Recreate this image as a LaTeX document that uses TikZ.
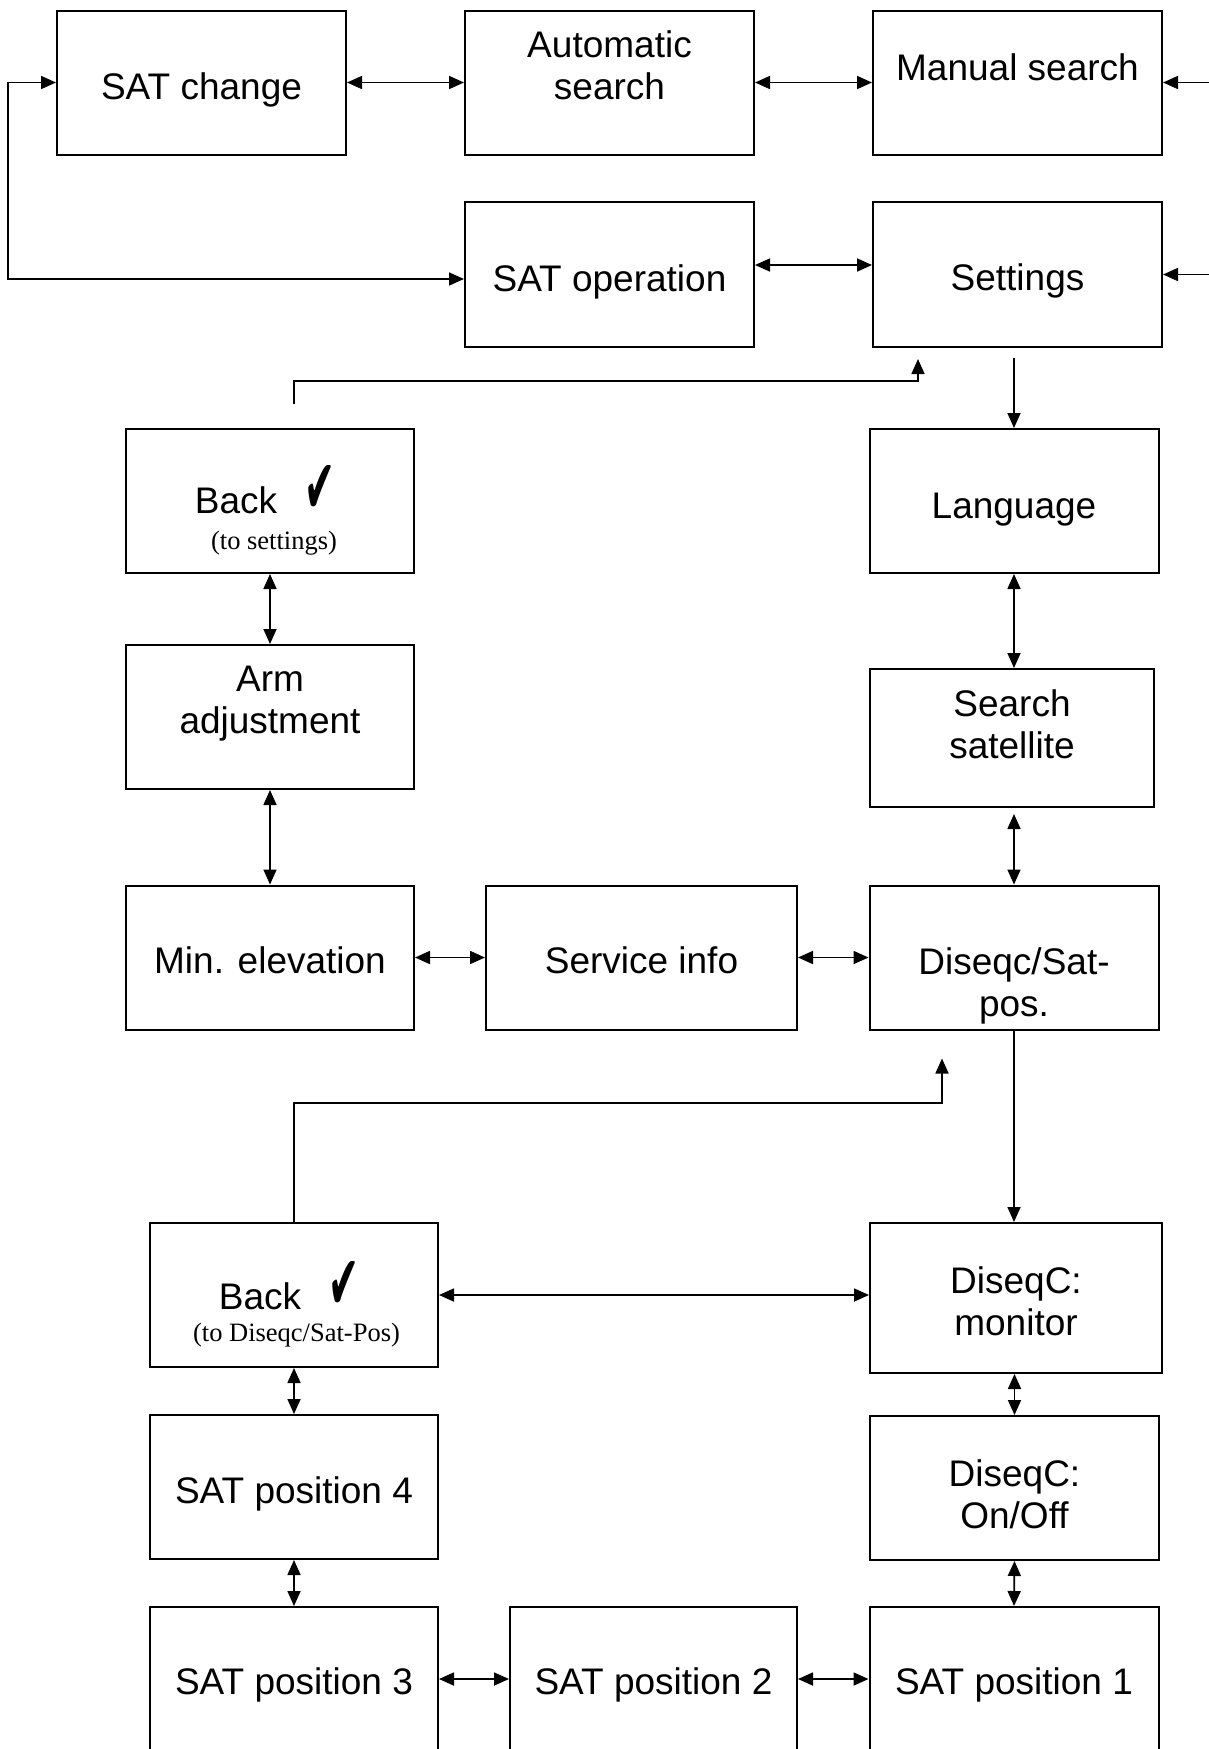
\documentclass[tikz,border=0pt]{standalone}
\usepackage{fontspec}
\usepackage{graphicx}
\usetikzlibrary{arrows.meta}
\setmainfont{Liberation Sans}
\newfontfamily\notefont{Liberation Serif}
\newfontfamily\tickfont{DejaVu Sans}
\newcommand{\tickmark}{\resizebox{31pt}{48pt}{\tickfont ✔}}

\tikzset{
    menu/.style={draw, line width=2pt, minimum width=289pt, minimum height=144pt, inner sep=0pt},
    entry/.style={font=\fontsize{37}{41.5}\selectfont, align=center, anchor=base, inner sep=0pt},
    note/.style={font=\notefont\fontsize{26.5}{30}\selectfont, anchor=base, inner sep=0pt},
    link/.style={line width=1.7pt, -{Triangle[length=15pt,width=13pt]}},
    dlink/.style={line width=1.7pt, {Triangle[length=15pt,width=13pt]}-{Triangle[length=15pt,width=13pt]}}
}

\begin{document}
\begin{tikzpicture}[x=1pt, y=-1pt]
            % Frame to fix the page size:
            \useasboundingbox (0,0) rectangle (1209,1749);
            % Top rows
            \node[menu]                                  (satchange) at ( 201.5,  82.5) {};
            \node[menu]                                  (autosearch) at ( 609.5,  82.5) {};
            \node[menu]                                  (manual)    at (1017.5,  82.5) {};
            \node[menu, minimum height=145pt]            (satop)     at ( 609.5, 274.5) {};
            \node[menu, minimum height=145pt]            (settings)  at (1017.5, 274.5) {};
            \node[entry] (satchange-t)  at ( 201.5,  99) {SAT change};
            \node[entry] (autosearch-t) at ( 609.5,  99) {Automatic\\search};
            \node[entry] (manual-t)     at (1017.5,  80) {Manual search};
            \node[entry] (satop-t)      at ( 609.5, 291) {SAT operation};
            \node[entry] (settings-t)   at (1017.5, 290) {Settings};
            % Settings menu
            \node[menu, minimum width=288pt]             (back1)     at ( 270, 501) {};
            \node[menu]                                  (language)  at (1014, 501) {};
            \node[menu, minimum width=288pt]             (arm)       at ( 270, 717) {};
            \node[menu, minimum width=284pt, minimum height=138pt] (search) at (1012, 738) {};
            \node[menu, minimum width=288pt]             (minelev)   at ( 270, 957.5) {};
            \node[menu, minimum width=311pt]             (service)   at ( 641.5, 957.5) {};
            \node[menu]                                  (diseqc)    at (1014, 957.5) {};
            \node[entry] (back1-t)    at ( 265, 513) {Back\hspace{27pt}\tickmark};
            \node[note]  (back1-n)    at ( 274, 549) {(to settings)};
            \node[entry] (language-t) at (1014, 518) {Language};
            \node[entry] (arm-t)      at ( 270, 733) {Arm\\adjustment};
            \node[entry] (search-t)   at (1012, 758) {Search\\satellite};
            \node[entry] (minelev-t)  at ( 270, 973) {Min. elevation};
            \node[entry] (service-t)  at ( 641.5, 973) {Service info};
            \node[entry] (diseqc-t)   at (1014, 1016) {Diseqc/Sat-\\pos.};
            % DiseqC menu
            \node[menu, minimum width=288pt]             (back2)     at ( 294, 1295) {};
            \node[menu, minimum width=292pt, minimum height=150pt] (monitor) at (1016, 1298) {};
            \node[menu, minimum width=288pt]             (pos4)      at ( 294, 1487) {};
            \node[menu]                                  (onoff)     at (1014.5, 1488) {};
            \node[menu, minimum width=288pt]             (pos3)      at ( 294, 1679) {};
            \node[menu, minimum width=287pt]             (pos2)      at ( 653.5, 1679) {};
            \node[menu]                                  (pos1)      at (1014, 1679) {};
            \node[entry] (back2-t)   at ( 289, 1309) {Back\hspace{27pt}\tickmark};
            \node[note]  (back2-n)   at ( 296.5, 1341) {(to Diseqc/Sat-Pos)};
            \node[entry] (monitor-t) at (1016, 1335) {DiseqC:\\monitor};
            \node[entry] (onoff-t)   at (1014.5, 1528) {DiseqC:\\On/Off};
            \node[entry] (pos4-t)    at ( 294, 1503) {SAT position 4};
            \node[entry] (pos3-t)    at ( 294, 1694) {SAT position 3};
            \node[entry] (pos2-t)    at ( 653.5, 1694) {SAT position 2};
            \node[entry] (pos1-t)    at (1014, 1694) {SAT position 1};
            % Free ends on the right
            \coordinate (in-manual)   at (1209,  82.5);
            \coordinate (in-settings) at (1209, 274.5);
            % Top connectors
            \draw[dlink] (satchange.east) -- (autosearch.west);
            \draw[dlink] (autosearch.east) -- (manual.west);
            \draw[dlink] (satchange.west) -- ++(-48,0) |- ([yshift=-4.5pt]satop.west);
            \draw[dlink] ([yshift=9.5pt]satop.east) -- ([yshift=9.5pt]settings.west);
            \draw[link]  (in-manual) -- (manual.east);
            \draw[link]  (in-settings) -- (settings.east);
            % Settings connectors
            \draw[link]  ([yshift=-10pt]settings.south -| language.north) -- (language.north);
            \draw[link]  ([xshift=24pt,yshift=24pt]back1.north) -- ++(0,-23) -| ([xshift=-99.5pt,yshift=-11pt]settings.south);
            \draw[dlink] (language.south) -- (language.south |- search.north);
            \draw[dlink] ([yshift=-6pt]search.south -| diseqc.north) -- (diseqc.north);
            \draw[dlink] (back1.south) -- (arm.north);
            \draw[dlink] (arm.south) -- (minelev.north);
            \draw[dlink] (minelev.east) -- (service.west);
            \draw[dlink] (service.east) -- (diseqc.west);
            % DiseqC connectors
            \draw[link]  (diseqc.south) -- (diseqc.south |- monitor.north);
            \draw[link]  (back2.north) -- ++(0,-119) -| ([xshift=-72pt,yshift=-28pt]diseqc.south);
            \draw[dlink] (back2.east) -- (back2.east -| monitor.west);
            \draw[dlink] (back2.south) -- (pos4.north);
            \draw[dlink] (onoff.north |- monitor.south) -- (onoff.north);
            \draw[dlink] (pos4.south) -- (pos3.north);
            \draw[dlink] (onoff.south) -- (pos1.north);
            \draw[dlink] (pos3.east) -- (pos2.west);
            \draw[dlink] (pos2.east) -- (pos1.west);
\end{tikzpicture}
\end{document}
